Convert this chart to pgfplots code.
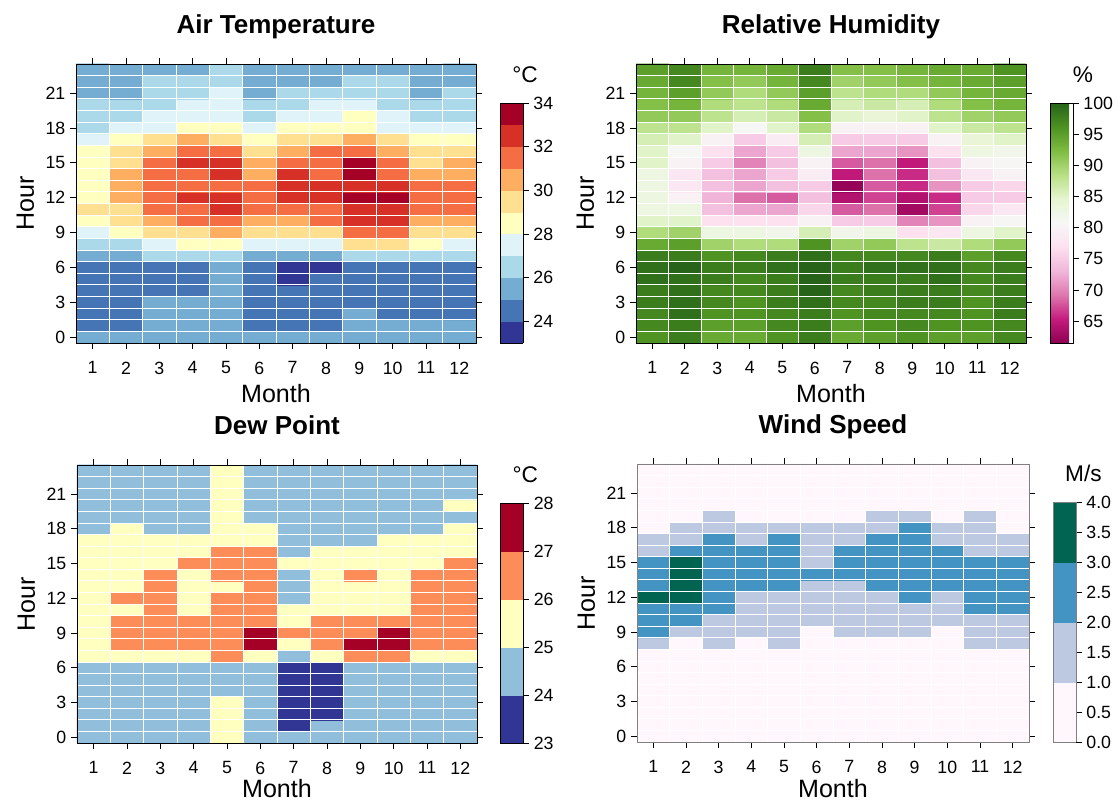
\documentclass[border=0pt]{standalone}
\usepackage{fontspec}
\setmainfont{Liberation Sans}
\usepackage{pgfplots}
\pgfplotsset{compat=1.18}
\pgfplotsset{
  /pgf/number format/assume math mode=true,
  hm/.style={
    scale only axis, enlargelimits=false, axis on top,
    xmin=0.5, xmax=12.5, ymin=-0.5, ymax=23.5,
    xtick={1,...,12}, ytick={0,3,...,21},
    minor xtick={1.5,2.5,...,11.5}, minor ytick={0.5,1.5,...,22.5},
    minor tick length=0pt,
    xminorgrids, yminorgrids,
    minor grid style={white, line width=0.6pt},
    tick align=outside, major tick length=4.5pt,
    tick style={black, line width=0.6pt},
    tick label style={font=\fontsize{13.3}{15}\selectfont},
    xticklabel style={yshift=-6pt},
    xlabel={Month}, ylabel={Hour},
    label style={font=\fontsize{18.8}{21}\selectfont},
    xlabel style={at={(axis description cs:0.5,0)}, anchor=center, yshift=-38pt},
    ylabel style={at={(axis description cs:0,0.5)}, anchor=center, yshift=38pt},
    title style={at={(axis description cs:0.5,1)}, anchor=base, yshift=16.5pt, font=\bfseries\fontsize{19.5}{22}\selectfont},
    colorbar,
  },
  cb/.style={
    at={(parent axis.south east)}, anchor=south west,
    scale only axis, width=17.5pt, height=180pt,
    ytick pos=right, tick align=outside, major tick length=4pt,
    tick style={black, line width=0.6pt},
    yticklabel style={font=\fontsize{13.3}{15}\selectfont},
    title style={at={(0.5,1)}, anchor=base, yshift=9pt, font=\fontsize{17}{19}\selectfont},
  },
}
\begin{document}
\begin{tikzpicture}
\path[use as bounding box] (0,0) rectangle (840pt,602.25pt);

% ---------------- Air Temperature ----------------
\begin{axis}[hm, at={(57pt,345pt)}, anchor=south west, width=300pt, height=209.25pt,
  title={Air Temperature},
  colormap={rdylbu}{rgb255=(49,54,149) rgb255=(69,117,180) rgb255=(116,173,209) rgb255=(171,217,233) rgb255=(224,243,248) rgb255=(255,255,191) rgb255=(254,224,144) rgb255=(253,174,97) rgb255=(244,109,67) rgb255=(215,48,39) rgb255=(165,0,38)},
  colormap access=piecewise constant,
  point meta min=23, point meta max=34,
  colorbar style={cb, xshift=9.5pt, ytick={24,26,...,34}, title={°C}, title style={xshift=10pt}},
]
\addplot[matrix plot*, mesh/cols=12, point meta=explicit] coordinates {
(1,0)[25.5] (2,0)[25.5] (3,0)[25.5] (4,0)[25.5] (5,0)[25.5] (6,0)[25.5] (7,0)[25.5] (8,0)[25.5] (9,0)[25.5] (10,0)[25.5] (11,0)[25.5] (12,0)[25.5]
(1,1)[24.5] (2,1)[24.5] (3,1)[25.5] (4,1)[25.5] (5,1)[25.5] (6,1)[24.5] (7,1)[24.5] (8,1)[24.5] (9,1)[25.5] (10,1)[25.5] (11,1)[25.5] (12,1)[25.5]
(1,2)[24.5] (2,2)[24.5] (3,2)[25.5] (4,2)[25.5] (5,2)[25.5] (6,2)[24.5] (7,2)[24.5] (8,2)[24.5] (9,2)[25.5] (10,2)[24.5] (11,2)[24.5] (12,2)[24.5]
(1,3)[24.5] (2,3)[24.5] (3,3)[25.5] (4,3)[25.5] (5,3)[25.5] (6,3)[24.5] (7,3)[24.5] (8,3)[24.5] (9,3)[24.5] (10,3)[24.5] (11,3)[24.5] (12,3)[24.5]
(1,4)[24.5] (2,4)[24.5] (3,4)[24.5] (4,4)[24.5] (5,4)[25.5] (6,4)[24.5] (7,4)[24.5] (8,4)[24.5] (9,4)[24.5] (10,4)[24.5] (11,4)[24.5] (12,4)[24.5]
(1,5)[24.5] (2,5)[24.5] (3,5)[24.5] (4,5)[24.5] (5,5)[25.5] (6,5)[24.5] (7,5)[23.5] (8,5)[24.5] (9,5)[24.5] (10,5)[24.5] (11,5)[24.5] (12,5)[24.5]
(1,6)[24.5] (2,6)[24.5] (3,6)[24.5] (4,6)[24.5] (5,6)[25.5] (6,6)[24.5] (7,6)[23.5] (8,6)[23.5] (9,6)[24.5] (10,6)[24.5] (11,6)[24.5] (12,6)[24.5]
(1,7)[25.5] (2,7)[25.5] (3,7)[26.5] (4,7)[26.5] (5,7)[26.5] (6,7)[25.5] (7,7)[25.5] (8,7)[25.5] (9,7)[26.5] (10,7)[26.5] (11,7)[26.5] (12,7)[26.5]
(1,8)[26.5] (2,8)[26.5] (3,8)[27.5] (4,8)[28.5] (5,8)[28.5] (6,8)[27.5] (7,8)[27.5] (8,8)[27.5] (9,8)[29.5] (10,8)[29.5] (11,8)[28.5] (12,8)[27.5]
(1,9)[27.5] (2,9)[28.5] (3,9)[29.5] (4,9)[29.5] (5,9)[30.5] (6,9)[29.5] (7,9)[29.5] (8,9)[29.5] (9,9)[31.5] (10,9)[31.5] (11,9)[29.5] (12,9)[29.5]
(1,10)[28.5] (2,10)[29.5] (3,10)[30.5] (4,10)[31.5] (5,10)[31.5] (6,10)[30.5] (7,10)[30.5] (8,10)[31.5] (9,10)[32.5] (10,10)[32.5] (11,10)[30.5] (12,10)[30.5]
(1,11)[29.5] (2,11)[29.5] (3,11)[31.5] (4,11)[31.5] (5,11)[32.5] (6,11)[31.5] (7,11)[31.5] (8,11)[31.5] (9,11)[32.5] (10,11)[32.5] (11,11)[31.5] (12,11)[31.5]
(1,12)[28.5] (2,12)[30.5] (3,12)[31.5] (4,12)[32.5] (5,12)[32.5] (6,12)[31.5] (7,12)[32.5] (8,12)[32.5] (9,12)[33.5] (10,12)[33.5] (11,12)[31.5] (12,12)[31.5]
(1,13)[28.5] (2,13)[30.5] (3,13)[31.5] (4,13)[31.5] (5,13)[31.5] (6,13)[31.5] (7,13)[32.5] (8,13)[32.5] (9,13)[32.5] (10,13)[32.5] (11,13)[31.5] (12,13)[31.5]
(1,14)[28.5] (2,14)[30.5] (3,14)[31.5] (4,14)[31.5] (5,14)[32.5] (6,14)[30.5] (7,14)[32.5] (8,14)[31.5] (9,14)[33.5] (10,14)[31.5] (11,14)[30.5] (12,14)[30.5]
(1,15)[28.5] (2,15)[29.5] (3,15)[31.5] (4,15)[32.5] (5,15)[32.5] (6,15)[30.5] (7,15)[31.5] (8,15)[31.5] (9,15)[33.5] (10,15)[31.5] (11,15)[29.5] (12,15)[30.5]
(1,16)[28.5] (2,16)[29.5] (3,16)[30.5] (4,16)[31.5] (5,16)[31.5] (6,16)[29.5] (7,16)[30.5] (8,16)[31.5] (9,16)[31.5] (10,16)[30.5] (11,16)[29.5] (12,16)[29.5]
(1,17)[27.5] (2,17)[28.5] (3,17)[29.5] (4,17)[30.5] (5,17)[29.5] (6,17)[28.5] (7,17)[29.5] (8,17)[29.5] (9,17)[30.5] (10,17)[29.5] (11,17)[28.5] (12,17)[28.5]
(1,18)[26.5] (2,18)[27.5] (3,18)[27.5] (4,18)[28.5] (5,18)[28.5] (6,18)[27.5] (7,18)[28.5] (8,18)[28.5] (9,18)[28.5] (10,18)[27.5] (11,18)[27.5] (12,18)[27.5]
(1,19)[26.5] (2,19)[26.5] (3,19)[27.5] (4,19)[27.5] (5,19)[27.5] (6,19)[26.5] (7,19)[27.5] (8,19)[27.5] (9,19)[28.5] (10,19)[27.5] (11,19)[26.5] (12,19)[26.5]
(1,20)[26.5] (2,20)[26.5] (3,20)[26.5] (4,20)[27.5] (5,20)[27.5] (6,20)[26.5] (7,20)[26.5] (8,20)[27.5] (9,20)[27.5] (10,20)[26.5] (11,20)[26.5] (12,20)[26.5]
(1,21)[25.5] (2,21)[25.5] (3,21)[26.5] (4,21)[26.5] (5,21)[27.5] (6,21)[25.5] (7,21)[26.5] (8,21)[26.5] (9,21)[26.5] (10,21)[26.5] (11,21)[25.5] (12,21)[26.5]
(1,22)[25.5] (2,22)[25.5] (3,22)[26.5] (4,22)[26.5] (5,22)[26.5] (6,22)[25.5] (7,22)[25.5] (8,22)[25.5] (9,22)[26.5] (10,22)[26.5] (11,22)[25.5] (12,22)[25.5]
(1,23)[25.5] (2,23)[25.5] (3,23)[25.5] (4,23)[25.5] (5,23)[26.5] (6,23)[25.5] (7,23)[25.5] (8,23)[25.5] (9,23)[25.5] (10,23)[25.5] (11,23)[25.5] (12,23)[25.5]
};
\end{axis}

% ---------------- Relative Humidity ----------------
\begin{axis}[hm, at={(477pt,345pt)}, anchor=south west, width=292.5pt, height=209.25pt,
  title={Relative Humidity},
  colormap={piyg}{rgb255=(142,1,82) rgb255=(197,27,125) rgb255=(222,119,174) rgb255=(241,182,218) rgb255=(253,224,239) rgb255=(247,247,247) rgb255=(230,245,208) rgb255=(184,225,134) rgb255=(127,188,65) rgb255=(77,146,33) rgb255=(39,100,25)},
  point meta min=61.5, point meta max=100,
  colorbar style={cb, xshift=9.5pt, ytick={65,70,...,100}, title={\%}, title style={xshift=16pt}},
]
\addplot[matrix plot*, mesh/cols=12, point meta=explicit] coordinates {
(1,0)[96] (2,0)[98] (3,0)[94] (4,0)[94] (5,0)[96] (6,0)[98] (7,0)[94] (8,0)[95] (9,0)[96] (10,0)[95] (11,0)[95] (12,0)[97]
(1,1)[97] (2,1)[98] (3,1)[95] (4,1)[95] (5,1)[97] (6,1)[98] (7,1)[95] (8,1)[96] (9,1)[97] (10,1)[96] (11,1)[96] (12,1)[97]
(1,2)[97] (2,2)[99] (3,2)[96] (4,2)[96] (5,2)[97] (6,2)[98] (7,2)[96] (8,2)[97] (9,2)[97] (10,2)[97] (11,2)[96] (12,2)[98]
(1,3)[98] (2,3)[99] (3,3)[97] (4,3)[96] (5,3)[98] (6,3)[99] (7,3)[97] (8,3)[97] (9,3)[98] (10,3)[98] (11,3)[96] (12,3)[98]
(1,4)[98] (2,4)[99] (3,4)[97] (4,4)[97] (5,4)[98] (6,4)[100] (7,4)[97] (8,4)[98] (9,4)[98] (10,4)[98] (11,4)[97] (12,4)[98]
(1,5)[99] (2,5)[99] (3,5)[98] (4,5)[97] (5,5)[98] (6,5)[100] (7,5)[98] (8,5)[98] (9,5)[98] (10,5)[99] (11,5)[97] (12,5)[98]
(1,6)[99] (2,6)[100] (3,6)[98] (4,6)[98] (5,6)[99] (6,6)[100] (7,6)[98] (8,6)[99] (9,6)[99] (10,6)[99] (11,6)[97] (12,6)[98]
(1,7)[98] (2,7)[98] (3,7)[96] (4,7)[97] (5,7)[98] (6,7)[99] (7,7)[97] (8,7)[97] (9,7)[97] (10,7)[98] (11,7)[95] (12,7)[97]
(1,8)[94] (2,8)[95] (3,8)[90] (4,8)[89] (5,8)[89] (6,8)[96] (7,8)[90] (8,8)[91] (9,8)[88] (10,8)[87] (11,8)[89] (12,8)[91]
(1,9)[89] (2,9)[90] (3,9)[83] (4,9)[83] (5,9)[82] (6,9)[86] (7,9)[82] (8,9)[83] (9,9)[77] (10,9)[78] (11,9)[83] (12,9)[85]
(1,10)[85] (2,10)[85] (3,10)[77] (4,10)[77] (5,10)[77] (6,10)[80] (7,10)[75] (8,10)[75] (9,10)[70] (10,10)[71] (11,10)[80] (12,10)[81]
(1,11)[83] (2,11)[83] (3,11)[74] (4,11)[72] (5,11)[72] (6,11)[76] (7,11)[68] (8,11)[69] (9,11)[63] (10,11)[67] (11,11)[76] (12,11)[78]
(1,12)[83] (2,12)[80] (3,12)[73] (4,12)[69] (5,12)[68] (6,12)[74] (7,12)[64] (8,12)[67] (9,12)[64] (10,12)[66] (11,12)[75] (12,12)[75]
(1,13)[83] (2,13)[78] (3,13)[74] (4,13)[72] (5,13)[74] (6,13)[75] (7,13)[62] (8,13)[68] (9,13)[66] (10,13)[71] (11,13)[75] (12,13)[76]
(1,14)[83] (2,14)[78] (3,14)[74] (4,14)[72] (5,14)[75] (6,14)[79] (7,14)[65] (8,14)[69] (9,14)[66] (10,14)[74] (11,14)[78] (12,14)[80]
(1,15)[85] (2,15)[80] (3,15)[75] (4,15)[70] (5,15)[74] (6,15)[80] (7,15)[68] (8,15)[69] (9,15)[65] (10,15)[74] (11,15)[80] (12,15)[81]
(1,16)[85] (2,16)[81] (3,16)[77] (4,16)[72] (5,16)[75] (6,16)[83] (7,16)[72] (8,16)[72] (9,16)[71] (10,16)[77] (11,16)[83] (12,16)[82]
(1,17)[86] (2,17)[85] (3,17)[80] (4,17)[75] (5,17)[79] (6,17)[86] (7,17)[75] (8,17)[75] (9,17)[75] (10,17)[80] (11,17)[84] (12,17)[85]
(1,18)[88] (2,18)[88] (3,18)[85] (4,18)[81] (5,18)[85] (6,18)[89] (7,18)[80] (8,18)[80] (9,18)[80] (10,18)[85] (11,18)[87] (12,18)[88]
(1,19)[91] (2,19)[91] (3,19)[88] (4,19)[86] (5,19)[87] (6,19)[92] (7,19)[85] (8,19)[84] (9,19)[85] (10,19)[88] (11,19)[90] (12,19)[91]
(1,20)[92] (2,20)[93] (3,20)[89] (4,20)[88] (5,20)[89] (6,20)[94] (7,20)[86] (8,20)[87] (9,20)[86] (10,20)[89] (11,20)[92] (12,20)[93]
(1,21)[93] (2,21)[95] (3,21)[91] (4,21)[89] (5,21)[91] (6,21)[95] (7,21)[88] (8,21)[89] (9,21)[89] (10,21)[91] (11,21)[93] (12,21)[94]
(1,22)[94] (2,22)[97] (3,22)[92] (4,22)[91] (5,22)[93] (6,22)[97] (7,22)[90] (8,22)[91] (9,22)[92] (10,22)[93] (11,22)[94] (12,22)[95]
(1,23)[95] (2,23)[97] (3,23)[93] (4,23)[93] (5,23)[94] (6,23)[98] (7,23)[92] (8,23)[92] (9,23)[93] (10,23)[94] (11,23)[94] (12,23)[96]
};
\end{axis}

% ---------------- Dew Point ----------------
\begin{axis}[hm, at={(57.75pt,45pt)}, anchor=south west, width=300pt, height=208.5pt,
  title={Dew Point},
  xlabel style={yshift=3.5pt},
  colormap={dew}{rgb255=(49,54,149) rgb255=(145,191,219) rgb255=(255,255,191) rgb255=(252,141,89) rgb255=(165,0,38)},
  colormap access=piecewise constant,
  point meta min=23, point meta max=28,
  colorbar style={cb, xshift=9pt, ytick={23,...,28}, title={°C}, title style={xshift=10pt}},
]
\addplot[matrix plot*, mesh/cols=12, point meta=explicit] coordinates {
(1,0)[24.5] (2,0)[24.5] (3,0)[24.5] (4,0)[24.5] (5,0)[25.5] (6,0)[24.5] (7,0)[24.5] (8,0)[24.5] (9,0)[24.5] (10,0)[24.5] (11,0)[24.5] (12,0)[24.5]
(1,1)[24.5] (2,1)[24.5] (3,1)[24.5] (4,1)[24.5] (5,1)[25.5] (6,1)[24.5] (7,1)[23.5] (8,1)[24.5] (9,1)[24.5] (10,1)[24.5] (11,1)[24.5] (12,1)[24.5]
(1,2)[24.5] (2,2)[24.5] (3,2)[24.5] (4,2)[24.5] (5,2)[25.5] (6,2)[24.5] (7,2)[23.5] (8,2)[23.5] (9,2)[24.5] (10,2)[24.5] (11,2)[24.5] (12,2)[24.5]
(1,3)[24.5] (2,3)[24.5] (3,3)[24.5] (4,3)[24.5] (5,3)[25.5] (6,3)[24.5] (7,3)[23.5] (8,3)[23.5] (9,3)[24.5] (10,3)[24.5] (11,3)[24.5] (12,3)[24.5]
(1,4)[24.5] (2,4)[24.5] (3,4)[24.5] (4,4)[24.5] (5,4)[24.5] (6,4)[24.5] (7,4)[23.5] (8,4)[23.5] (9,4)[24.5] (10,4)[24.5] (11,4)[24.5] (12,4)[24.5]
(1,5)[24.5] (2,5)[24.5] (3,5)[24.5] (4,5)[24.5] (5,5)[24.5] (6,5)[24.5] (7,5)[23.5] (8,5)[23.5] (9,5)[24.5] (10,5)[24.5] (11,5)[24.5] (12,5)[24.5]
(1,6)[24.5] (2,6)[24.5] (3,6)[24.5] (4,6)[24.5] (5,6)[24.5] (6,6)[24.5] (7,6)[23.5] (8,6)[23.5] (9,6)[24.5] (10,6)[24.5] (11,6)[24.5] (12,6)[24.5]
(1,7)[25.5] (2,7)[25.5] (3,7)[25.5] (4,7)[25.5] (5,7)[26.5] (6,7)[25.5] (7,7)[24.5] (8,7)[25.5] (9,7)[26.5] (10,7)[26.5] (11,7)[25.5] (12,7)[25.5]
(1,8)[25.5] (2,8)[26.5] (3,8)[26.5] (4,8)[26.5] (5,8)[26.5] (6,8)[27.5] (7,8)[25.5] (8,8)[26.5] (9,8)[27.5] (10,8)[27.5] (11,8)[26.5] (12,8)[26.5]
(1,9)[25.5] (2,9)[26.5] (3,9)[26.5] (4,9)[26.5] (5,9)[26.5] (6,9)[27.5] (7,9)[26.5] (8,9)[26.5] (9,9)[26.5] (10,9)[27.5] (11,9)[26.5] (12,9)[26.5]
(1,10)[25.5] (2,10)[26.5] (3,10)[26.5] (4,10)[26.5] (5,10)[26.5] (6,10)[26.5] (7,10)[25.5] (8,10)[26.5] (9,10)[26.5] (10,10)[26.5] (11,10)[26.5] (12,10)[26.5]
(1,11)[25.5] (2,11)[25.5] (3,11)[26.5] (4,11)[25.5] (5,11)[26.5] (6,11)[26.5] (7,11)[25.5] (8,11)[25.5] (9,11)[25.5] (10,11)[25.5] (11,11)[26.5] (12,11)[26.5]
(1,12)[25.5] (2,12)[26.5] (3,12)[26.5] (4,12)[25.5] (5,12)[26.5] (6,12)[26.5] (7,12)[24.5] (8,12)[25.5] (9,12)[25.5] (10,12)[25.5] (11,12)[26.5] (12,12)[26.5]
(1,13)[25.5] (2,13)[25.5] (3,13)[26.5] (4,13)[25.5] (5,13)[25.5] (6,13)[26.5] (7,13)[24.5] (8,13)[25.5] (9,13)[25.5] (10,13)[25.5] (11,13)[26.5] (12,13)[26.5]
(1,14)[25.5] (2,14)[25.5] (3,14)[26.5] (4,14)[25.5] (5,14)[26.5] (6,14)[26.5] (7,14)[24.5] (8,14)[25.5] (9,14)[26.5] (10,14)[25.5] (11,14)[26.5] (12,14)[26.5]
(1,15)[25.5] (2,15)[25.5] (3,15)[25.5] (4,15)[26.5] (5,15)[26.5] (6,15)[26.5] (7,15)[25.5] (8,15)[25.5] (9,15)[25.5] (10,15)[25.5] (11,15)[25.5] (12,15)[26.5]
(1,16)[25.5] (2,16)[25.5] (3,16)[25.5] (4,16)[25.5] (5,16)[26.5] (6,16)[26.5] (7,16)[24.5] (8,16)[25.5] (9,16)[25.5] (10,16)[25.5] (11,16)[25.5] (12,16)[25.5]
(1,17)[25.5] (2,17)[25.5] (3,17)[25.5] (4,17)[25.5] (5,17)[25.5] (6,17)[25.5] (7,17)[24.5] (8,17)[24.5] (9,17)[24.5] (10,17)[25.5] (11,17)[25.5] (12,17)[25.5]
(1,18)[24.5] (2,18)[25.5] (3,18)[24.5] (4,18)[24.5] (5,18)[25.5] (6,18)[25.5] (7,18)[24.5] (8,18)[24.5] (9,18)[24.5] (10,18)[24.5] (11,18)[24.5] (12,18)[25.5]
(1,19)[24.5] (2,19)[24.5] (3,19)[24.5] (4,19)[24.5] (5,19)[25.5] (6,19)[24.5] (7,19)[24.5] (8,19)[24.5] (9,19)[24.5] (10,19)[24.5] (11,19)[24.5] (12,19)[24.5]
(1,20)[24.5] (2,20)[24.5] (3,20)[24.5] (4,20)[24.5] (5,20)[25.5] (6,20)[24.5] (7,20)[24.5] (8,20)[24.5] (9,20)[24.5] (10,20)[24.5] (11,20)[24.5] (12,20)[25.5]
(1,21)[24.5] (2,21)[24.5] (3,21)[24.5] (4,21)[24.5] (5,21)[25.5] (6,21)[24.5] (7,21)[24.5] (8,21)[24.5] (9,21)[24.5] (10,21)[24.5] (11,21)[24.5] (12,21)[24.5]
(1,22)[24.5] (2,22)[24.5] (3,22)[24.5] (4,22)[24.5] (5,22)[25.5] (6,22)[24.5] (7,22)[24.5] (8,22)[24.5] (9,22)[24.5] (10,22)[24.5] (11,22)[24.5] (12,22)[24.5]
(1,23)[24.5] (2,23)[24.5] (3,23)[24.5] (4,23)[24.5] (5,23)[25.5] (6,23)[24.5] (7,23)[24.5] (8,23)[24.5] (9,23)[24.5] (10,23)[24.5] (11,23)[24.5] (12,23)[24.5]
};
\end{axis}

% ---------------- Wind Speed ----------------
\begin{axis}[hm, at={(477.75pt,45.75pt)}, anchor=south west, width=294pt, height=208.5pt,
  title={Wind Speed},
  xlabel style={yshift=3pt},
  axis line style={black!50},
  colormap={wind}{rgb255=(255,247,251) rgb255=(189,201,225) rgb255=(67,147,195) rgb255=(1,100,80)},
  colormap access=piecewise constant,
  point meta min=0, point meta max=4,
  colorbar style={cb, xshift=9.5pt, ytick={0,0.5,...,4}, axis line style={black!50},
    yticklabel style={/pgf/number format/.cd, fixed, fixed zerofill, precision=1},
    title={M/s}, title style={xshift=14pt}},
]
\addplot[matrix plot*, mesh/cols=12, point meta=explicit] coordinates {
(1,0)[0.5] (2,0)[0.5] (3,0)[0.5] (4,0)[0.5] (5,0)[0.5] (6,0)[0.5] (7,0)[0.5] (8,0)[0.5] (9,0)[0.5] (10,0)[0.5] (11,0)[0.5] (12,0)[0.5]
(1,1)[0.5] (2,1)[0.5] (3,1)[0.5] (4,1)[0.5] (5,1)[0.5] (6,1)[0.5] (7,1)[0.5] (8,1)[0.5] (9,1)[0.5] (10,1)[0.5] (11,1)[0.5] (12,1)[0.5]
(1,2)[0.5] (2,2)[0.5] (3,2)[0.5] (4,2)[0.5] (5,2)[0.5] (6,2)[0.5] (7,2)[0.5] (8,2)[0.5] (9,2)[0.5] (10,2)[0.5] (11,2)[0.5] (12,2)[0.5]
(1,3)[0.5] (2,3)[0.5] (3,3)[0.5] (4,3)[0.5] (5,3)[0.5] (6,3)[0.5] (7,3)[0.5] (8,3)[0.5] (9,3)[0.5] (10,3)[0.5] (11,3)[0.5] (12,3)[0.5]
(1,4)[0.5] (2,4)[0.5] (3,4)[0.5] (4,4)[0.5] (5,4)[0.5] (6,4)[0.5] (7,4)[0.5] (8,4)[0.5] (9,4)[0.5] (10,4)[0.5] (11,4)[0.5] (12,4)[0.5]
(1,5)[0.5] (2,5)[0.5] (3,5)[0.5] (4,5)[0.5] (5,5)[0.5] (6,5)[0.5] (7,5)[0.5] (8,5)[0.5] (9,5)[0.5] (10,5)[0.5] (11,5)[0.5] (12,5)[0.5]
(1,6)[0.5] (2,6)[0.5] (3,6)[0.5] (4,6)[0.5] (5,6)[0.5] (6,6)[0.5] (7,6)[0.5] (8,6)[0.5] (9,6)[0.5] (10,6)[0.5] (11,6)[0.5] (12,6)[0.5]
(1,7)[0.5] (2,7)[0.5] (3,7)[0.5] (4,7)[0.5] (5,7)[0.5] (6,7)[0.5] (7,7)[0.5] (8,7)[0.5] (9,7)[0.5] (10,7)[0.5] (11,7)[0.5] (12,7)[0.5]
(1,8)[1.5] (2,8)[0.5] (3,8)[1.5] (4,8)[0.5] (5,8)[1.5] (6,8)[0.5] (7,8)[0.5] (8,8)[0.5] (9,8)[0.5] (10,8)[0.5] (11,8)[1.5] (12,8)[1.5]
(1,9)[2.5] (2,9)[1.5] (3,9)[1.5] (4,9)[1.5] (5,9)[1.5] (6,9)[0.5] (7,9)[1.5] (8,9)[1.5] (9,9)[1.5] (10,9)[0.5] (11,9)[1.5] (12,9)[1.5]
(1,10)[2.5] (2,10)[2.5] (3,10)[1.5] (4,10)[1.5] (5,10)[1.5] (6,10)[1.5] (7,10)[1.5] (8,10)[1.5] (9,10)[1.5] (10,10)[1.5] (11,10)[1.5] (12,10)[1.5]
(1,11)[2.5] (2,11)[2.5] (3,11)[2.5] (4,11)[1.5] (5,11)[1.5] (6,11)[1.5] (7,11)[1.5] (8,11)[1.5] (9,11)[1.5] (10,11)[1.5] (11,11)[2.5] (12,11)[2.5]
(1,12)[3.5] (2,12)[3.5] (3,12)[2.5] (4,12)[1.5] (5,12)[1.5] (6,12)[1.5] (7,12)[1.5] (8,12)[1.5] (9,12)[2.5] (10,12)[1.5] (11,12)[2.5] (12,12)[2.5]
(1,13)[2.5] (2,13)[3.5] (3,13)[2.5] (4,13)[2.5] (5,13)[2.5] (6,13)[1.5] (7,13)[1.5] (8,13)[2.5] (9,13)[2.5] (10,13)[2.5] (11,13)[2.5] (12,13)[2.5]
(1,14)[2.5] (2,14)[3.5] (3,14)[2.5] (4,14)[2.5] (5,14)[2.5] (6,14)[2.5] (7,14)[2.5] (8,14)[2.5] (9,14)[2.5] (10,14)[2.5] (11,14)[2.5] (12,14)[2.5]
(1,15)[2.5] (2,15)[3.5] (3,15)[2.5] (4,15)[2.5] (5,15)[2.5] (6,15)[1.5] (7,15)[2.5] (8,15)[2.5] (9,15)[2.5] (10,15)[2.5] (11,15)[2.5] (12,15)[2.5]
(1,16)[1.5] (2,16)[2.5] (3,16)[2.5] (4,16)[2.5] (5,16)[2.5] (6,16)[1.5] (7,16)[2.5] (8,16)[2.5] (9,16)[2.5] (10,16)[2.5] (11,16)[1.5] (12,16)[1.5]
(1,17)[1.5] (2,17)[1.5] (3,17)[2.5] (4,17)[1.5] (5,17)[2.5] (6,17)[1.5] (7,17)[1.5] (8,17)[2.5] (9,17)[2.5] (10,17)[1.5] (11,17)[1.5] (12,17)[1.5]
(1,18)[0.5] (2,18)[1.5] (3,18)[1.5] (4,18)[1.5] (5,18)[1.5] (6,18)[1.5] (7,18)[1.5] (8,18)[1.5] (9,18)[2.5] (10,18)[1.5] (11,18)[1.5] (12,18)[0.5]
(1,19)[0.5] (2,19)[0.5] (3,19)[1.5] (4,19)[0.5] (5,19)[0.5] (6,19)[0.5] (7,19)[0.5] (8,19)[1.5] (9,19)[1.5] (10,19)[0.5] (11,19)[1.5] (12,19)[0.5]
(1,20)[0.5] (2,20)[0.5] (3,20)[0.5] (4,20)[0.5] (5,20)[0.5] (6,20)[0.5] (7,20)[0.5] (8,20)[0.5] (9,20)[0.5] (10,20)[0.5] (11,20)[0.5] (12,20)[0.5]
(1,21)[0.5] (2,21)[0.5] (3,21)[0.5] (4,21)[0.5] (5,21)[0.5] (6,21)[0.5] (7,21)[0.5] (8,21)[0.5] (9,21)[0.5] (10,21)[0.5] (11,21)[0.5] (12,21)[0.5]
(1,22)[0.5] (2,22)[0.5] (3,22)[0.5] (4,22)[0.5] (5,22)[0.5] (6,22)[0.5] (7,22)[0.5] (8,22)[0.5] (9,22)[0.5] (10,22)[0.5] (11,22)[0.5] (12,22)[0.5]
(1,23)[0.5] (2,23)[0.5] (3,23)[0.5] (4,23)[0.5] (5,23)[0.5] (6,23)[0.5] (7,23)[0.5] (8,23)[0.5] (9,23)[0.5] (10,23)[0.5] (11,23)[0.5] (12,23)[0.5]
};
\end{axis}
\end{tikzpicture}
\end{document}
